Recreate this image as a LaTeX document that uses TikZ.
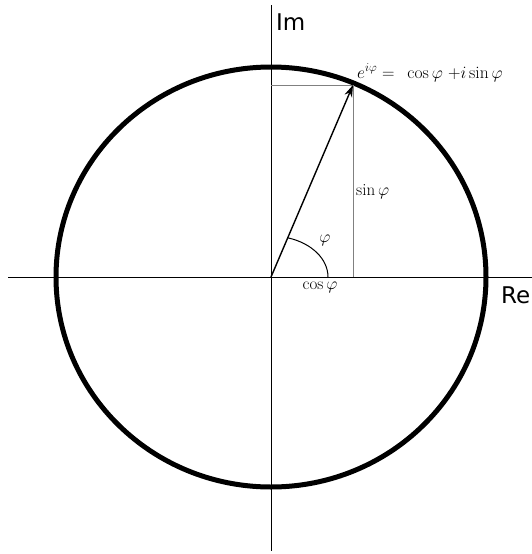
\documentclass[tikz,border=0pt]{standalone}
\usepackage{fontspec}
\newfontfamily\axfont{DejaVu Sans}
\usetikzlibrary{arrows.meta,calc}
\tikzset{
  axis/.style={draw=black, line width=1pt},
  ring/.style={draw=black, line width=5pt},
  guide/.style={draw=black!50, line width=0.9pt},
  vec/.style={draw=black, line width=1.4pt, -{Stealth[length=12pt,width=8pt]}},
  anglearc/.style={draw=black, line width=1pt},
  axlabel/.style={inner sep=0pt, anchor=base west, font=\axfont\fontsize{23}{23}\selectfont},
  mlabel/.style={inner sep=0pt, font=\fontsize{17}{17}\selectfont},
  eqlabel/.style={inner sep=0pt, font=\fontsize{17.5}{17.5}\selectfont}
}
\begin{document}
\begin{tikzpicture}[x=1pt,y=-1pt]
\useasboundingbox (0,0) rectangle (532,554);
\coordinate (O) at (271,277);
\coordinate (P) at (353,85);
\coordinate (xl) at (8,277);
\coordinate (xr) at (532,277);
\coordinate (yt) at (271,5);
\coordinate (yb) at (271,551);
\coordinate (A) at (328,277);
\draw[axis] (xl) -- (xr);
\draw[axis] (yt) -- (yb);
\draw[ring] (O) ellipse [x radius=215, y radius=210];
\draw[guide] (O |- P) -- (P) -- (P |- O);
\draw[anglearc] (A) arc [start angle=0, end angle=-72.6, x radius=57, y radius=41];
\draw[vec] (O) -- (P);
\node[axlabel] (im) at (276,30) {Im};
\node[axlabel] (re) at (501,303) {Re};
\node[eqlabel, anchor=base west] (eq) at (357,78) {$e^{i\varphi} =\ \,\cos\varphi\ {+}i\sin\varphi$};
\node[mlabel, anchor=base west] (sn) at (356,195) {$\sin\varphi$};
\node[mlabel] (ph) at (325,240) {$\varphi$};
\node[mlabel, anchor=base] (cs) at (320,289) {$\cos\varphi$};
\end{tikzpicture}
\end{document}
